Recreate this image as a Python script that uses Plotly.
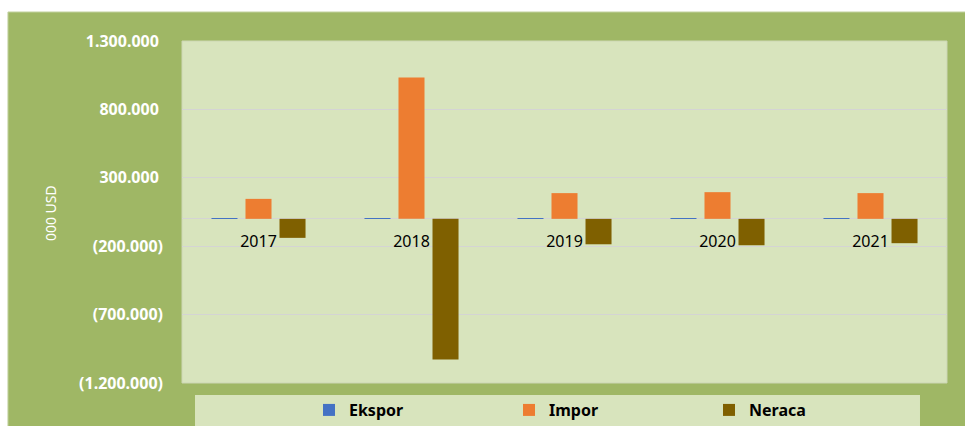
import plotly.graph_objects as go

years = ["2017", "2018", "2019", "2020", "2021"]
ekspor = [4000, 3000, 3500, 4000, 4500]
impor = [146000, 1034000, 188000, 195000, 188000]
neraca = [-139000, -1029000, -186000, -193000, -178000]

tick_vals = [1300000, 800000, 300000, -200000, -700000, -1200000]
tick_text = ["1.300.000\u00a0", "800.000\u00a0", "300.000\u00a0", "(200.000)", "(700.000)", "(1.200.000)"]
y_range = [-1200000, 1300000]

OUTER = "#9FB765"
INNER = "#D8E4BD"
GRID = "#D4D4D4"

fig = go.Figure()
fig.add_trace(go.Bar(name="Ekspor", x=years, y=ekspor, marker=dict(color="#4472C4", line=dict(width=0))))
fig.add_trace(go.Bar(name="Impor", x=years, y=impor, marker=dict(color="#ED7D31", line=dict(width=0))))
fig.add_trace(go.Bar(name="Neraca", x=years, y=neraca, marker=dict(color="#7F6000", line=dict(width=0))))

zero_pos = (0 - y_range[0]) / (y_range[1] - y_range[0])

fig.update_layout(
    width=965, height=426,
    margin=dict(l=182, r=18, t=41, b=43, autoexpand=False),
    paper_bgcolor="white",
    plot_bgcolor=INNER,
    barmode="group",
    bargap=0.333,
    bargroupgap=0.235,
    font=dict(family="Noto Sans", color="black"),
    showlegend=True,
    legend=dict(
        orientation="h", x=0.166, xanchor="left", y=-0.079, yanchor="middle",
        entrywidth=155, entrywidthmode="pixels",
        font=dict(family="Noto Sans", size=16, color="black", weight="bold"),
        bgcolor="rgba(0,0,0,0)", itemclick=False,
    ),
    xaxis=dict(
        anchor="free", position=zero_pos,
        showgrid=False, showline=False, ticks="", zeroline=False,
        tickfont=dict(family="Noto Sans", size=16, color="black"),
        ticklabelstandoff=11, automargin=False,
    ),
    yaxis=dict(
        range=y_range, tickvals=tick_vals, ticktext=tick_text,
        showgrid=True, gridcolor=GRID, gridwidth=1,
        zeroline=True, zerolinecolor=GRID, zerolinewidth=1,
        showline=False, ticks="", automargin=False,
        tickfont=dict(family="Noto Sans", size=16, color="white", weight="bold"),
        ticklabelstandoff=18,
    ),
    shapes=[
        dict(type="rect", xref="paper", yref="paper", layer="below",
             x0=-0.2275, x1=1.05, y0=-0.2, y1=1.0848,
             fillcolor=OUTER, line=dict(color="#C3D2A0", width=1)),
        dict(type="rect", xref="paper", yref="paper", layer="below",
             x0=0, x1=1, y0=0, y1=1,
             fillcolor=INNER, line=dict(color="#CCD6B4", width=1)),
        dict(type="rect", xref="paper", yref="paper", layer="below",
             x0=0.017, x1=0.9647, y0=-0.2, y1=-0.0351,
             fillcolor=INNER, line=dict(width=0)),
    ],
    annotations=[
        dict(text="000 USD", xref="paper", yref="paper", x=-0.1725, y=0.497,
             xanchor="center", yanchor="middle",
             textangle=-90, showarrow=False,
             font=dict(family="Noto Sans", size=14, color="white")),
    ],
)

fig.write_html(
    "out.html",
    config={"displayModeBar": False},
    post_script="document.body.style.margin='0';document.body.style.overflow='hidden';",
)
